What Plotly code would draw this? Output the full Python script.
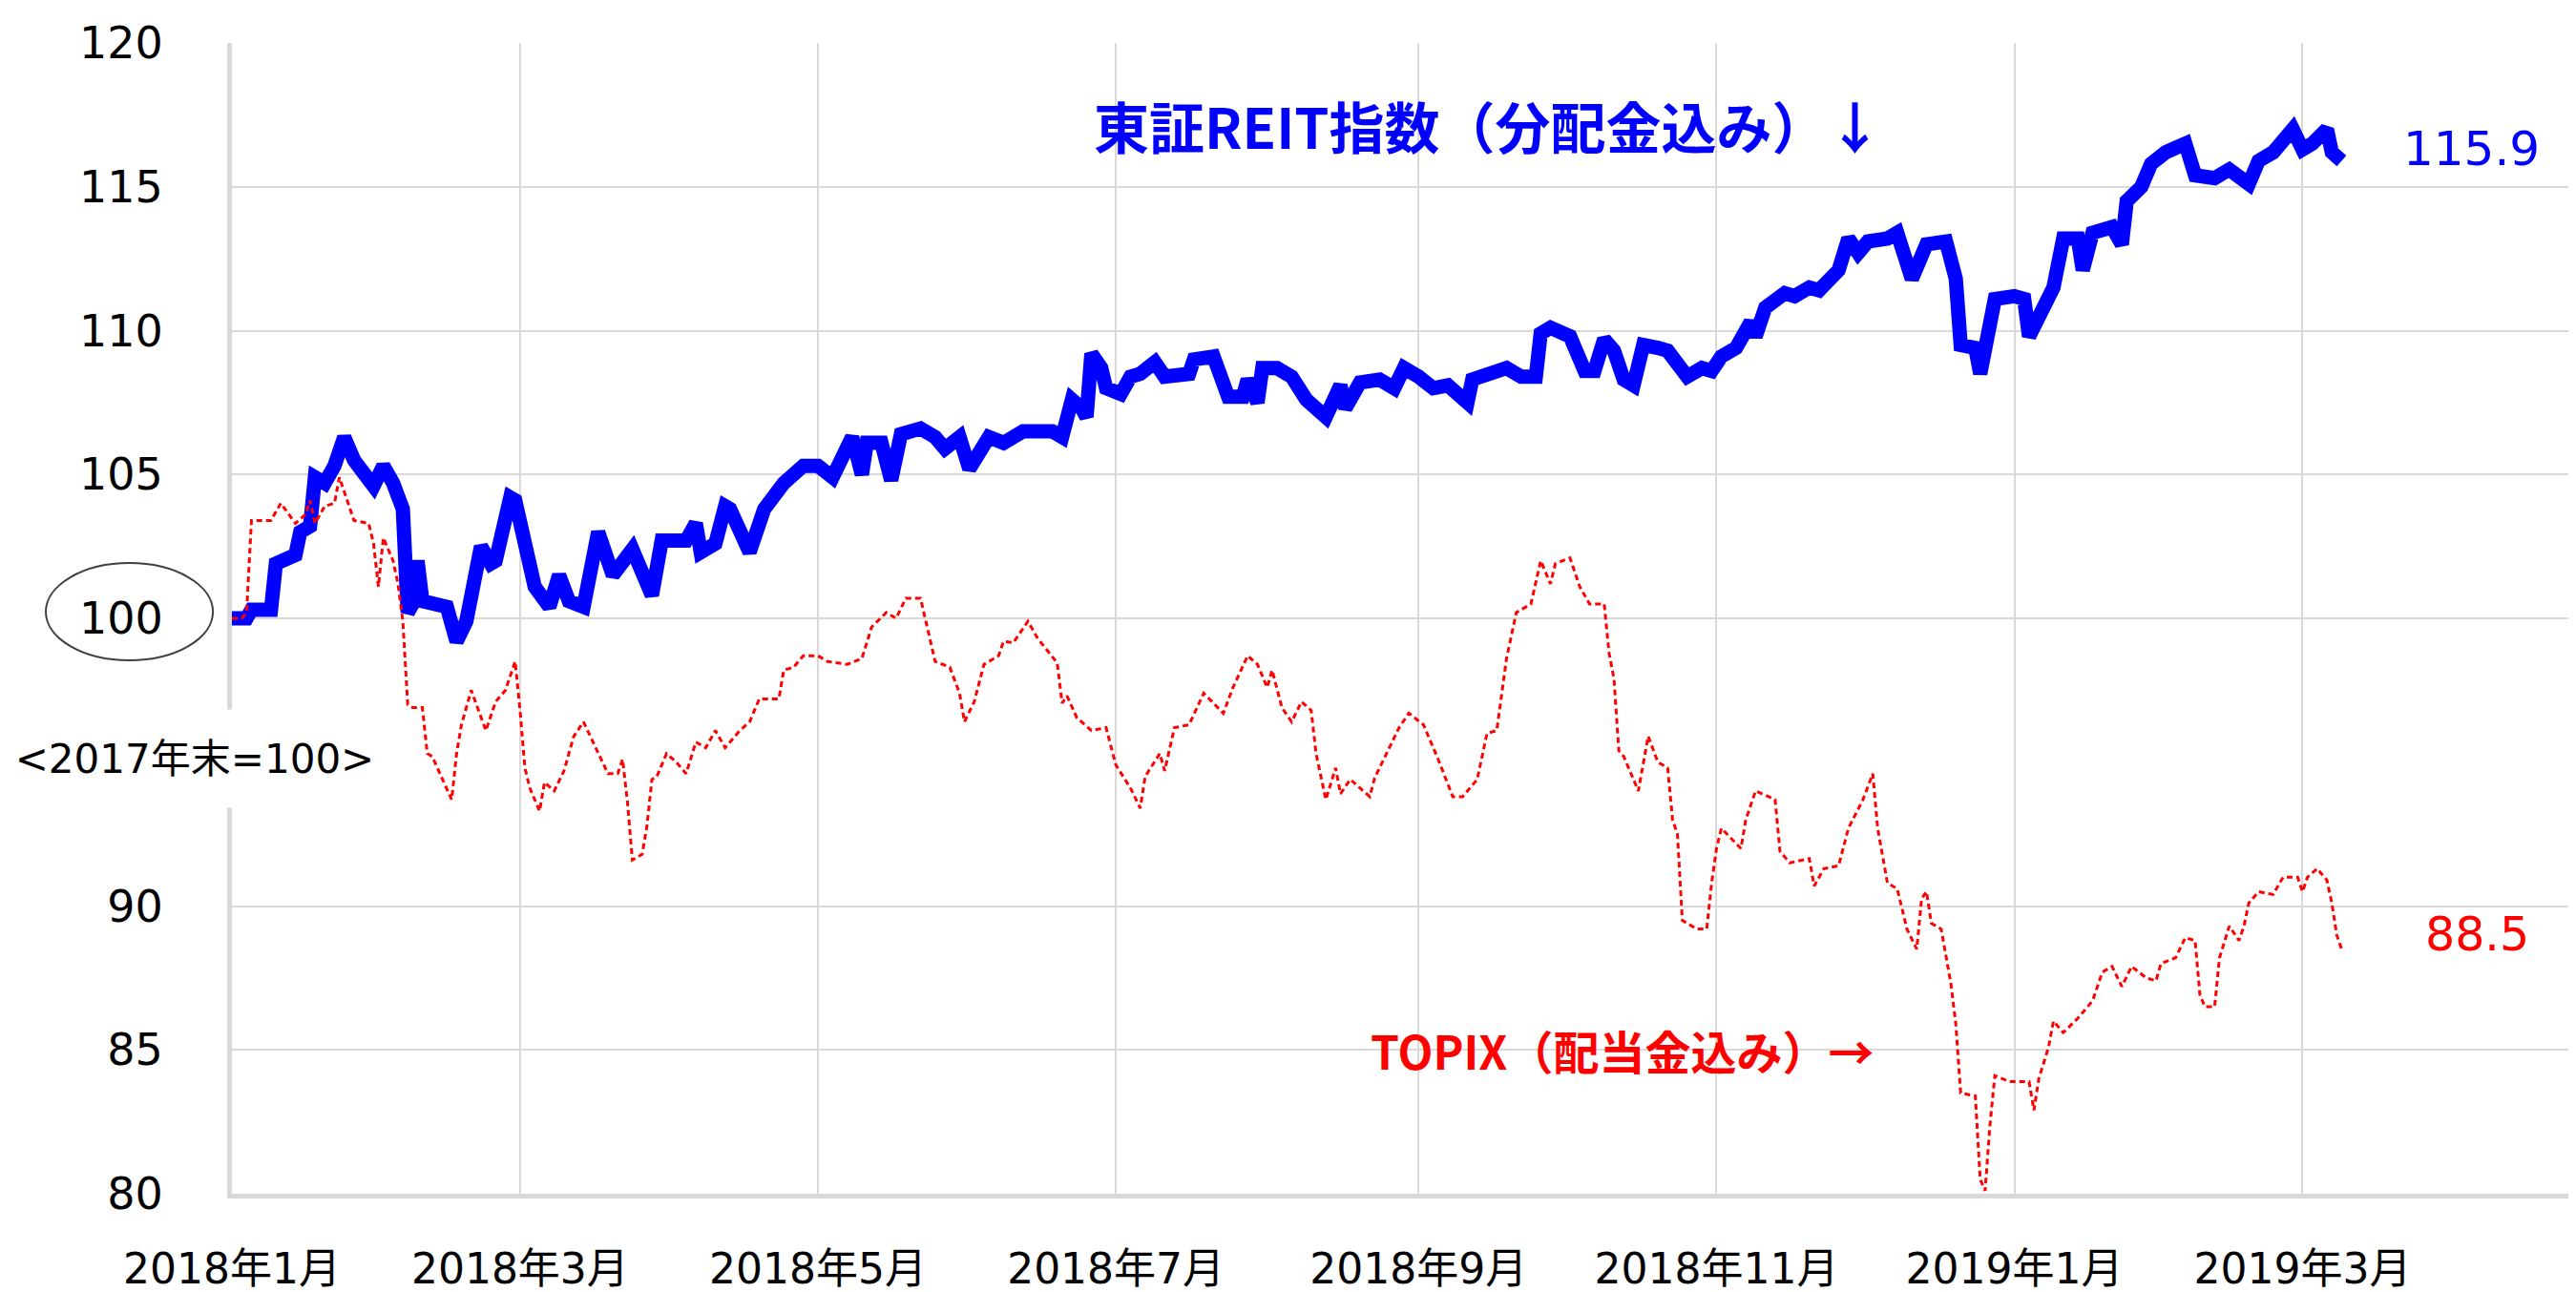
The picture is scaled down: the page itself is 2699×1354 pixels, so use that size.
import plotly.graph_objects as go

# ---- data ----
reit_dates = [
    "2018-01-01", "2018-01-04", "2018-01-05", "2018-01-09", "2018-01-10", "2018-01-12", "2018-01-14", "2018-01-15",
    "2018-01-17", "2018-01-18", "2018-01-20", "2018-01-22", "2018-01-24", "2018-01-26", "2018-01-30", "2018-02-01",
    "2018-02-03", "2018-02-05", "2018-02-06", "2018-02-07", "2018-02-08", "2018-02-09", "2018-02-12", "2018-02-14",
    "2018-02-16", "2018-02-18", "2018-02-21", "2018-02-23", "2018-02-24", "2018-02-27", "2018-02-28", "2018-03-02",
    "2018-03-04", "2018-03-07", "2018-03-09", "2018-03-11", "2018-03-14", "2018-03-17", "2018-03-20", "2018-03-24",
    "2018-03-28", "2018-03-30", "2018-04-04", "2018-04-06", "2018-04-07", "2018-04-10", "2018-04-12", "2018-04-13",
    "2018-04-17", "2018-04-20", "2018-04-24", "2018-04-28", "2018-05-01", "2018-05-04", "2018-05-08", "2018-05-10",
    "2018-05-11", "2018-05-14", "2018-05-16", "2018-05-18", "2018-05-22", "2018-05-25", "2018-05-27", "2018-05-30",
    "2018-06-01", "2018-06-05", "2018-06-08", "2018-06-12", "2018-06-18", "2018-06-20", "2018-06-22", "2018-06-24",
    "2018-06-25", "2018-06-26", "2018-06-28", "2018-06-29", "2018-07-02", "2018-07-04", "2018-07-06", "2018-07-09",
    "2018-07-11", "2018-07-16", "2018-07-17", "2018-07-21", "2018-07-24", "2018-07-27", "2018-07-28", "2018-07-30",
    "2018-07-31", "2018-08-03", "2018-08-06", "2018-08-09", "2018-08-13", "2018-08-16", "2018-08-17", "2018-08-20",
    "2018-08-24", "2018-08-27", "2018-08-29", "2018-09-01", "2018-09-04", "2018-09-07", "2018-09-11", "2018-09-12",
    "2018-09-19", "2018-09-22", "2018-09-25", "2018-09-26", "2018-09-28", "2018-10-02", "2018-10-05", "2018-10-07",
    "2018-10-09", "2018-10-11", "2018-10-13", "2018-10-15", "2018-10-17", "2018-10-20", "2018-10-22", "2018-10-26",
    "2018-10-29", "2018-10-31", "2018-11-02", "2018-11-05", "2018-11-08", "2018-11-09", "2018-11-11", "2018-11-15",
    "2018-11-17", "2018-11-20", "2018-11-22", "2018-11-26", "2018-11-28", "2018-11-30", "2018-12-02", "2018-12-06",
    "2018-12-08", "2018-12-11", "2018-12-14", "2018-12-18", "2018-12-20", "2018-12-21", "2018-12-24", "2018-12-25",
    "2018-12-27", "2018-12-28", "2019-01-01", "2019-01-03", "2019-01-04", "2019-01-07", "2019-01-09", "2019-01-11",
    "2019-01-14", "2019-01-15", "2019-01-17", "2019-01-21", "2019-01-23", "2019-01-24", "2019-01-27", "2019-01-29",
    "2019-02-01", "2019-02-05", "2019-02-07", "2019-02-11", "2019-02-14", "2019-02-18", "2019-02-20", "2019-02-23",
    "2019-02-27", "2019-03-01", "2019-03-03", "2019-03-06", "2019-03-07", "2019-03-09",
]
reit_values = [
    100.0, 100.0, 100.3, 100.3, 101.9, 102.0, 102.2, 103.0,
    103.2, 104.9, 104.7, 105.3, 106.3, 105.5, 104.6, 105.3,
    104.7, 103.8, 100.2, 100.5, 102.0, 100.6, 100.5, 100.4,
    99.2, 99.9, 102.5, 101.9, 102.0, 104.2, 104.1, 102.4,
    101.1, 100.4, 101.5, 100.6, 100.4, 103.0, 101.5, 102.4,
    100.8, 102.7, 102.7, 103.3, 102.3, 102.6, 103.9, 103.8,
    102.3, 103.8, 104.7, 105.3, 105.3, 104.9, 106.3, 105.0,
    106.1, 106.1, 104.8, 106.4, 106.6, 106.3, 105.9, 106.3,
    105.2, 106.3, 106.1, 106.5, 106.5, 106.3, 107.6, 107.3,
    107.0, 109.2, 108.7, 108.0, 107.8, 108.4, 108.5, 108.9,
    108.4, 108.5, 109.0, 109.1, 107.7, 107.7, 108.3, 107.5,
    108.7, 108.7, 108.4, 107.6, 107.0, 108.1, 107.3, 108.2,
    108.3, 108.0, 108.7, 108.4, 108.0, 108.1, 107.5, 108.3,
    108.7, 108.4, 108.4, 109.9, 110.1, 109.8, 108.6, 108.6,
    109.7, 109.3, 108.3, 108.1, 109.5, 109.4, 109.3, 108.4,
    108.7, 108.6, 109.1, 109.4, 110.3, 109.8, 110.8, 111.3,
    111.2, 111.5, 111.4, 112.1, 113.2, 112.7, 113.1, 113.2,
    113.4, 111.8, 113.0, 113.1, 111.8, 109.5, 109.4, 108.5,
    110.1, 111.1, 111.2, 111.1, 109.8, 110.8, 111.5, 113.2,
    113.2, 112.1, 113.4, 113.6, 113.0, 114.5, 115.0, 115.8,
    116.2, 116.5, 115.4, 115.3, 115.6, 115.1, 115.9, 116.2,
    117.0, 116.3, 116.5, 117.0, 116.2, 115.9,
]

topix_dates = [
    "2018-01-01", "2018-01-03", "2018-01-04", "2018-01-05", "2018-01-09", "2018-01-11", "2018-01-14", "2018-01-16",
    "2018-01-17", "2018-01-18", "2018-01-20", "2018-01-22", "2018-01-23", "2018-01-24", "2018-01-26", "2018-01-29",
    "2018-01-30", "2018-01-31", "2018-02-01", "2018-02-03", "2018-02-04", "2018-02-05", "2018-02-06", "2018-02-07",
    "2018-02-09", "2018-02-10", "2018-02-11", "2018-02-15", "2018-02-16", "2018-02-17", "2018-02-19", "2018-02-22",
    "2018-02-24", "2018-02-26", "2018-02-28", "2018-03-01", "2018-03-02", "2018-03-03", "2018-03-05", "2018-03-06",
    "2018-03-08", "2018-03-10", "2018-03-12", "2018-03-14", "2018-03-16", "2018-03-19", "2018-03-21", "2018-03-22",
    "2018-03-23", "2018-03-24", "2018-03-26", "2018-03-27", "2018-03-28", "2018-03-29", "2018-03-31", "2018-04-02",
    "2018-04-04", "2018-04-06", "2018-04-08", "2018-04-10", "2018-04-12", "2018-04-15", "2018-04-17", "2018-04-19",
    "2018-04-23", "2018-04-24", "2018-04-26", "2018-04-28", "2018-05-01", "2018-05-03", "2018-05-07", "2018-05-10",
    "2018-05-12", "2018-05-15", "2018-05-17", "2018-05-19", "2018-05-22", "2018-05-23", "2018-05-25", "2018-05-28",
    "2018-05-30", "2018-05-31", "2018-06-02", "2018-06-04", "2018-06-07", "2018-06-08", "2018-06-10", "2018-06-13",
    "2018-06-15", "2018-06-19", "2018-06-20", "2018-06-21", "2018-06-23", "2018-06-26", "2018-06-29", "2018-07-01",
    "2018-07-04", "2018-07-06", "2018-07-07", "2018-07-10", "2018-07-11", "2018-07-13", "2018-07-16", "2018-07-19",
    "2018-07-23", "2018-07-25", "2018-07-28", "2018-07-30", "2018-08-01", "2018-08-02", "2018-08-04", "2018-08-06",
    "2018-08-08", "2018-08-10", "2018-08-11", "2018-08-13", "2018-08-15", "2018-08-16", "2018-08-18", "2018-08-22",
    "2018-08-23", "2018-08-26", "2018-08-28", "2018-08-30", "2018-09-02", "2018-09-05", "2018-09-08", "2018-09-10",
    "2018-09-13", "2018-09-15", "2018-09-17", "2018-09-19", "2018-09-21", "2018-09-24", "2018-09-26", "2018-09-28",
    "2018-09-29", "2018-10-02", "2018-10-04", "2018-10-06", "2018-10-09", "2018-10-10", "2018-10-11", "2018-10-12",
    "2018-10-13", "2018-10-16", "2018-10-18", "2018-10-20", "2018-10-22", "2018-10-23", "2018-10-24", "2018-10-25",
    "2018-10-28", "2018-10-30", "2018-10-31", "2018-11-01", "2018-11-02", "2018-11-06", "2018-11-07", "2018-11-09",
    "2018-11-13", "2018-11-14", "2018-11-16", "2018-11-20", "2018-11-21", "2018-11-23", "2018-11-26", "2018-11-28",
    "2018-12-01", "2018-12-03", "2018-12-04", "2018-12-06", "2018-12-08", "2018-12-10", "2018-12-12", "2018-12-13",
    "2018-12-14", "2018-12-15", "2018-12-17", "2018-12-19", "2018-12-20", "2018-12-21", "2018-12-24", "2018-12-25",
    "2018-12-26", "2018-12-27", "2018-12-28", "2018-12-31", "2019-01-04", "2019-01-05", "2019-01-06", "2019-01-08",
    "2019-01-09", "2019-01-11", "2019-01-14", "2019-01-17", "2019-01-19", "2019-01-21", "2019-01-23", "2019-01-25",
    "2019-01-28", "2019-01-30", "2019-01-31", "2019-02-03", "2019-02-05", "2019-02-07", "2019-02-08", "2019-02-09",
    "2019-02-11", "2019-02-12", "2019-02-14", "2019-02-16", "2019-02-17", "2019-02-18", "2019-02-20", "2019-02-23",
    "2019-02-25", "2019-02-28", "2019-03-01", "2019-03-02", "2019-03-04", "2019-03-06", "2019-03-07", "2019-03-08",
    "2019-03-09",
]
topix_values = [
    100.0, 100.0, 100.2, 103.4, 103.4, 104.0, 103.3, 103.6,
    104.1, 103.3, 103.9, 104.0, 104.9, 104.4, 103.4, 103.3,
    102.6, 101.1, 102.8, 102.0, 101.2, 99.9, 97.0, 96.9,
    96.9, 95.3, 95.2, 93.7, 95.3, 96.3, 97.5, 96.1,
    97.1, 97.5, 98.5, 96.8, 94.8, 94.1, 93.3, 94.3,
    94.0, 94.7, 95.9, 96.4, 95.7, 94.6, 94.6, 95.1,
    93.6, 91.6, 91.8, 92.8, 94.4, 94.5, 95.3, 95.0,
    94.6, 95.7, 95.5, 96.1, 95.5, 96.1, 96.4, 97.2,
    97.2, 98.2, 98.3, 98.7, 98.7, 98.5, 98.4, 98.6,
    99.7, 100.2, 100.0, 100.7, 100.7, 100.0, 98.5, 98.3,
    97.4, 96.4, 97.1, 98.4, 98.7, 99.2, 99.15, 99.9,
    99.3, 98.45, 97.05, 97.3, 96.55, 96.1, 96.2, 94.9,
    94.1, 93.4, 94.5, 95.3, 94.7, 96.2, 96.3, 97.4,
    96.7, 97.6, 98.7, 98.4, 97.6, 98.2, 96.9, 96.4,
    97.1, 96.8, 95.3, 93.7, 94.8, 93.9, 94.4, 93.8,
    94.45, 95.5, 96.2, 96.7, 96.3, 95.1, 93.8, 93.8,
    94.4, 96.0, 96.1, 98.6, 100.2, 100.5, 102.0, 101.2,
    101.9, 102.1, 101.1, 100.5, 100.5, 98.8, 97.9, 95.4,
    95.2, 94.0, 95.9, 95.0, 94.8, 93.0, 92.5, 89.5,
    89.2, 89.2, 90.8, 92.0, 92.7, 92.0, 93.0, 94.0,
    93.7, 91.9, 91.5, 91.65, 90.7, 91.3, 91.4, 92.7,
    93.7, 94.6, 92.7, 90.8, 90.6, 89.2, 88.5, 90.25,
    90.5, 89.4, 89.2, 87.3, 85.9, 83.5, 83.4, 80.5,
    80.1, 82.4, 84.1, 83.9, 83.9, 82.9, 84.0, 85.1,
    86.0, 85.6, 86.1, 86.7, 87.7, 87.9, 87.2, 87.9,
    87.5, 87.4, 88.0, 88.2, 88.9, 88.8, 86.9, 86.5,
    86.5, 88.2, 89.3, 88.8, 89.3, 90.1, 90.5, 90.4,
    91.0, 91.0, 90.5, 91.0, 91.3, 90.9, 90.1, 89.0,
    88.5,
]

x_tick_vals = ["2018-01-01", "2018-03-01", "2018-05-01", "2018-07-01",
               "2018-09-01", "2018-11-01", "2019-01-01", "2019-03-01"]
x_tick_text = ["2018年1月", "2018年3月", "2018年5月", "2018年7月",
               "2018年9月", "2018年11月", "2019年1月", "2019年3月"]
y_tick_vals = [80, 85, 90, 100, 105, 110, 115, 120]

reit_label = "東証REIT指数（分配金込み）↓"
topix_label = "TOPIX（配当金込み）→"
base_label = "<2017年末=100>"

# ---- figure ----
GRID = "#d9d9d9"
FONT = "DejaVu Sans, Noto Sans CJK JP, sans-serif"
CJK = "Noto Sans CJK JP, sans-serif"

fig = go.Figure()
fig.add_trace(go.Scatter(
    x=reit_dates, y=reit_values, mode="lines",
    line=dict(color="#0000ff", width=15), showlegend=False, hoverinfo="skip"))
fig.add_trace(go.Scatter(
    x=topix_dates, y=topix_values, mode="lines",
    line=dict(color="#ff0000", width=3, dash="6px,4px"), showlegend=False, hoverinfo="skip"))

# page body has an 8px margin, so the figure is sized to end at the window edge
fig.update_layout(
    width=2691, height=1346,
    margin=dict(l=235, r=0, t=37, b=103),
    paper_bgcolor="white", plot_bgcolor="white",
    font=dict(family=FONT, size=44, color="black"),
    xaxis=dict(
        type="date", range=["2018-01-01", "2019-04-26"],
        tickvals=x_tick_vals, ticktext=x_tick_text,
        showgrid=True, gridcolor=GRID, gridwidth=2,
        showline=True, linecolor=GRID, linewidth=5,
        ticks="", ticklabelstandoff=36, automargin=False,
        tickfont=dict(family=FONT, size=44, color="black"),
        zeroline=False,
    ),
    yaxis=dict(
        range=[80, 120], tickvals=y_tick_vals,
        showgrid=True, gridcolor=GRID, gridwidth=2,
        showline=True, linecolor=GRID, linewidth=5,
        ticks="", ticklabelstandoff=58, automargin=False,
        tickfont=dict(family=FONT, size=46, color="black"),
        zeroline=False,
    ),
)

# ellipse around "100"
fig.add_shape(type="circle", xref="paper", yref="paper",
              x0=-0.0794, x1=-0.0081, y0=0.4635, y1=0.548,
              line=dict(color="#404040", width=2))

fig.add_annotation(text=base_label, xref="paper", yref="paper",
                   x=-0.016, y=0.378, xanchor="center", yanchor="middle",
                   showarrow=False, bgcolor="white", width=470, height=100,
                   font=dict(family=FONT, size=42, color="black"))

fig.add_annotation(text=reit_label, xref="paper", yref="paper",
                   x=0.5362, y=0.9287, xanchor="center", yanchor="middle",
                   showarrow=False,
                   font=dict(family=CJK, size=58, color="#0000ff", weight="bold"))
fig.add_annotation(text="115.9", xref="paper", yref="paper",
                   x=0.9556, y=0.908, xanchor="center", yanchor="middle",
                   showarrow=False, font=dict(family=FONT, size=50, color="#0000ff"))
fig.add_annotation(text="88.5", xref="paper", yref="paper",
                   x=0.9577, y=0.2255, xanchor="center", yanchor="middle",
                   showarrow=False, font=dict(family=FONT, size=49, color="#ff0000"))
fig.add_annotation(text=topix_label, xref="paper", yref="paper",
                   x=0.5932, y=0.1252, xanchor="center", yanchor="middle",
                   showarrow=False,
                   font=dict(family=CJK, size=48, color="#ff0000", weight="bold"))

fig.write_html("out.html")
